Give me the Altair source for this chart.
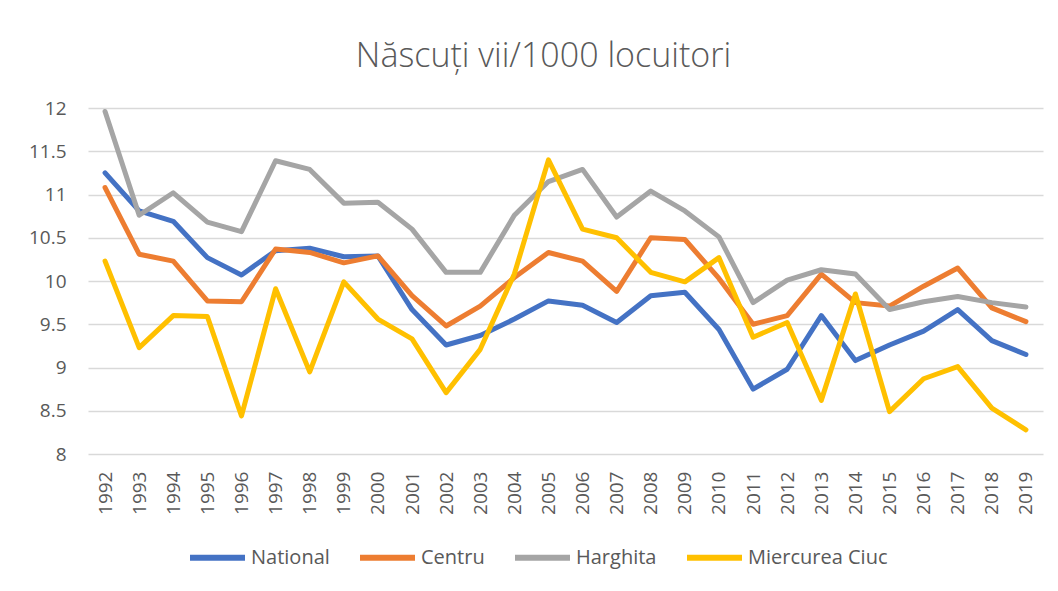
import altair as alt
import pandas as pd

years = [str(y) for y in range(1992, 2020)]
national = [11.25, 10.81, 10.69, 10.27, 10.07, 10.35, 10.38, 10.28, 10.29, 9.67,
            9.26, 9.37, 9.56, 9.77, 9.72, 9.52, 9.83, 9.87, 9.44, 8.75,
            8.98, 9.60, 9.08, 9.26, 9.42, 9.67, 9.31, 9.15]
centru = [11.08, 10.31, 10.23, 9.77, 9.76, 10.37, 10.33, 10.21, 10.29, 9.83,
          9.48, 9.71, 10.04, 10.33, 10.23, 9.88, 10.50, 10.48, 10.03, 9.50,
          9.60, 10.08, 9.75, 9.71, 9.94, 10.15, 9.69, 9.53]
harghita = [11.96, 10.76, 11.02, 10.68, 10.57, 11.39, 11.29, 10.90, 10.91, 10.60,
            10.10, 10.10, 10.76, 11.15, 11.29, 10.74, 11.04, 10.81, 10.51, 9.75,
            10.01, 10.13, 10.08, 9.67, 9.76, 9.82, 9.75, 9.70]
ciuc = [10.23, 9.23, 9.60, 9.59, 8.44, 9.91, 8.95, 9.99, 9.56, 9.33,
        8.71, 9.21, 10.08, 11.40, 10.60, 10.50, 10.10, 9.99, 10.27, 9.35,
        9.52, 8.62, 9.85, 8.49, 8.87, 9.01, 8.53, 8.28]

series_names = ["National", "Centru", "Harghita", "Miercurea Ciuc"]
series_colors = ["#4472C4", "#ED7D31", "#A5A5A5", "#FFC000"]
y_ticks = [8, 8.5, 9, 9.5, 10, 10.5, 11, 11.5, 12]

rows = []
for name, vals in zip(series_names, [national, centru, harghita, ciuc]):
    for yr, v in zip(years, vals):
        rows.append({"An": yr, "Valoare": v, "Serie": name, "ord": series_names.index(name)})
df = pd.DataFrame(rows)

FONT = "Open Sans"
GREY = "#595959"

chart = alt.Chart(df).mark_line(strokeWidth=5, strokeCap="round", strokeJoin="round").encode(
    x=alt.X("An:O", title=None, sort=years,
            scale=alt.Scale(type="point", padding=0.5),
            axis=alt.Axis(labelAngle=-90, labelFont=FONT, labelFontSize=19, labelColor=GREY,
                          labelPadding=17, ticks=False, tickSize=0, domain=False, grid=False)),
    y=alt.Y("Valoare:Q", title=None,
            scale=alt.Scale(domain=[8, 12], nice=False, zero=False),
            axis=alt.Axis(values=y_ticks, format="~g", labelFont=FONT, labelFontSize=19,
                          labelColor=GREY, labelPadding=22, ticks=False, tickSize=0,
                          domain=False, grid=True, gridColor="#D9D9D9", gridWidth=1.3)),
    color=alt.Color("Serie:N", sort=series_names,
                    scale=alt.Scale(domain=series_names, range=series_colors),
                    legend=alt.Legend(title=None, orient="none", direction="horizontal",
                                      columns=4, legendX=99, legendY=419,
                                      symbolType="stroke", symbolSize=3025,
                                      symbolStrokeWidth=6, labelFont=FONT, labelFontSize=20,
                                      labelColor=GREY, labelOffset=3, columnPadding=18,
                                      padding=0, labelLimit=300)),
    order=alt.Order("ord:Q"),
    detail="Serie:N",
).properties(
    width=955,
    height=346,
    title=alt.TitleParams("Născuți vii/1000 locuitori", font=FONT, fontSize=34,
                          fontWeight=300, color=GREY, anchor="middle", offset=25, dx=-22),
    autosize=alt.AutoSizeParams(type="none"),
    padding={"left": 80, "top": 100, "right": 7, "bottom": 129},
).configure_view(stroke=None)

chart.save("out.html", embed_options={"renderer": "svg", "actions": False})
